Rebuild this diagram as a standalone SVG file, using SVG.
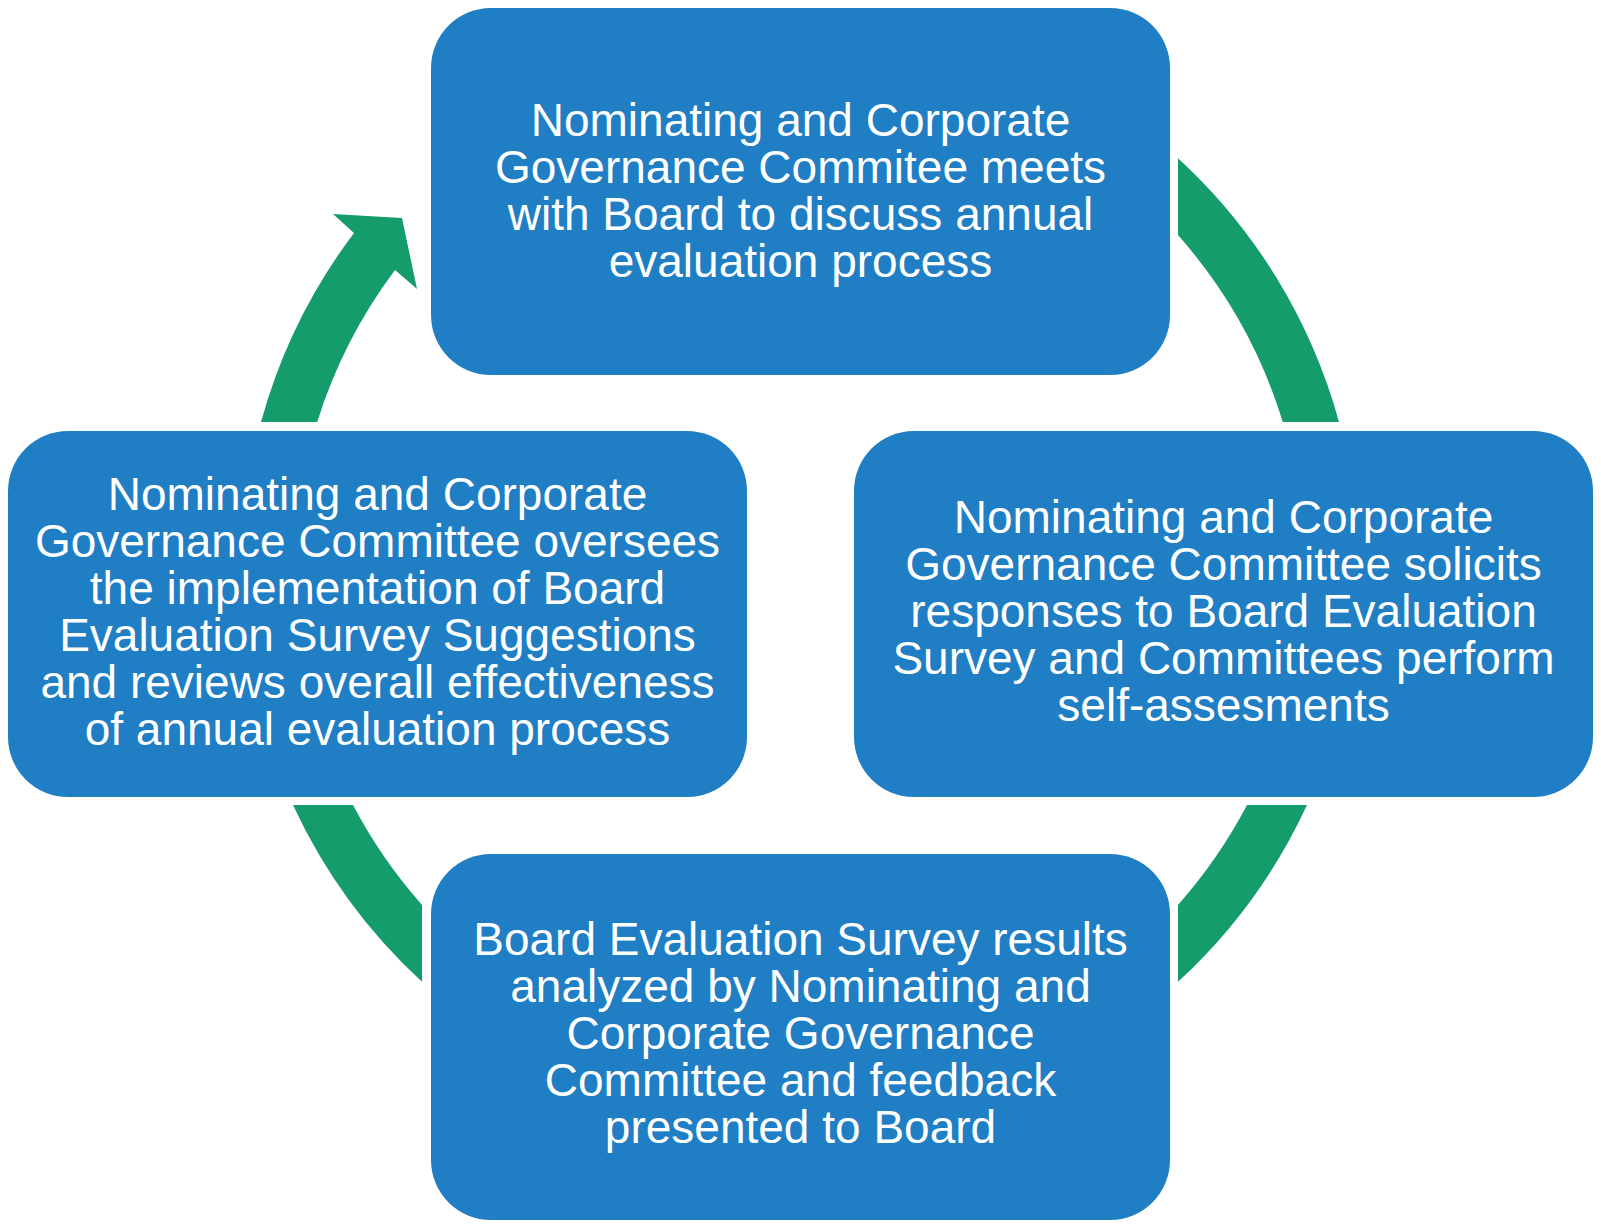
<svg xmlns="http://www.w3.org/2000/svg" width="1601" height="1227" viewBox="0 0 1601 1227">
<style>
.box{fill:#1F7EC4;}
.arc{fill:#149C6B;}
.t{font-family:"Liberation Sans",Arial,sans-serif;font-size:46px;fill:#FFFFFF;text-anchor:middle;}
</style>
<rect width="1601" height="1227" fill="#FFFFFF"/>
<g id="connectors">
<path class="arc" d="M 261 422 A 559 559 0 0 1 354 233 L 333 214 L 402 218 L 417 289 L 395 270 A 505 505 0 0 0 317.2 422 Z"/>
<path class="arc" d="M 1178 158.2 A 559 559 0 0 1 1339 422 L 1282.8 422 A 505 505 0 0 0 1178 235.1 Z"/>
<path class="arc" d="M 1307 805 A 559 559 0 0 1 1178 981.8 L 1178 904.9 A 505 505 0 0 0 1247 805 Z"/>
<path class="arc" d="M 422 904.9 L 422 981.8 A 559 559 0 0 1 293 805 L 353 805 A 505 505 0 0 0 422 904.9 Z"/>
</g>
<g id="node-top">
<rect class="box" x="431" y="8" width="739" height="367" rx="60" ry="60"/>
<text class="t" x="800.5" y="136">Nominating and Corporate</text>
<text class="t" x="800.5" y="183">Governance Commitee meets</text>
<text class="t" x="800.5" y="230">with Board to discuss annual</text>
<text class="t" x="800.5" y="277">evaluation process</text>
</g>
<g id="node-right">
<rect class="box" x="854" y="431" width="739" height="366" rx="60" ry="60"/>
<text class="t" x="1223.5" y="533">Nominating and Corporate</text>
<text class="t" x="1223.5" y="580">Governance Committee solicits</text>
<text class="t" x="1223.5" y="627">responses to Board Evaluation</text>
<text class="t" x="1223.5" y="674">Survey and Committees perform</text>
<text class="t" x="1223.5" y="721">self-assesments</text>
</g>
<g id="node-bottom">
<rect class="box" x="431" y="854" width="739" height="366" rx="60" ry="60"/>
<text class="t" x="800.5" y="955">Board Evaluation Survey results</text>
<text class="t" x="800.5" y="1002">analyzed by Nominating and</text>
<text class="t" x="800.5" y="1049">Corporate Governance</text>
<text class="t" x="800.5" y="1096">Committee and feedback</text>
<text class="t" x="800.5" y="1143">presented to Board</text>
</g>
<g id="node-left">
<rect class="box" x="8" y="431" width="739" height="366" rx="60" ry="60"/>
<text class="t" x="377.5" y="510">Nominating and Corporate</text>
<text class="t" x="377.5" y="557">Governance Committee oversees</text>
<text class="t" x="377.5" y="604">the implementation of Board</text>
<text class="t" x="377.5" y="651">Evaluation Survey Suggestions</text>
<text class="t" x="377.5" y="698">and reviews overall effectiveness</text>
<text class="t" x="377.5" y="745">of annual evaluation process</text>
</g>
</svg>
